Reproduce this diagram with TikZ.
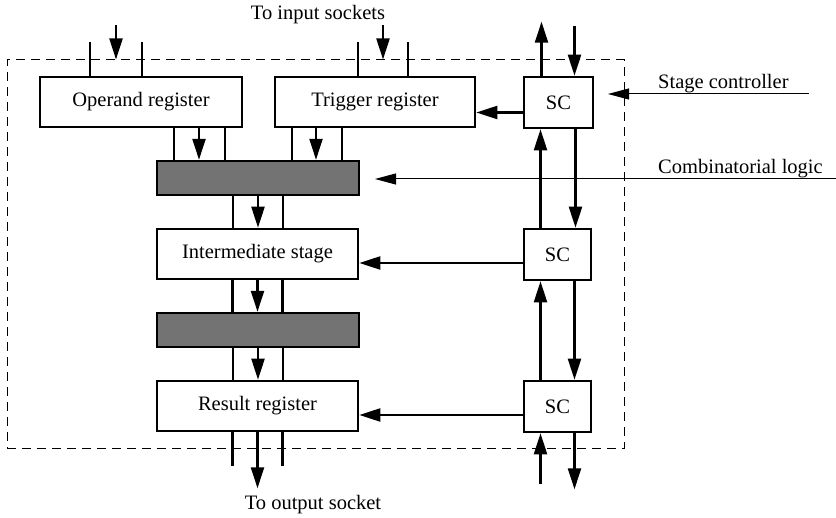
\documentclass[tikz,border=0pt]{standalone}
\usepackage{fontspec}
\setmainfont{Liberation Serif}
\usetikzlibrary{arrows.meta}
\begin{document}
\begin{tikzpicture}[x=1pt,y=-1pt,
  every node/.style={font=\fontsize{20.5}{24}\selectfont},
  blk/.style={draw,line width=2.6pt,fill=white,minimum height=50pt,inner sep=0pt},
  comb/.style={draw,line width=2.4pt,fill=black!55,minimum width=202pt,minimum height=34pt,inner sep=0pt},
  conn/.style={line width=2.2pt},
  arr/.style={line width=2.2pt,-{Triangle[length=21pt,width=13pt]}},
  thinarr/.style={line width=1pt,-{Triangle[length=21pt,width=11pt]}},
  frame/.style={draw,line width=1pt,dash pattern=on 9pt off 6pt,minimum width=617pt,minimum height=389pt,inner sep=0pt},
  lbl/.style={inner sep=0pt}]
\useasboundingbox (0,0) rectangle (836,518);
\node[frame] (frame) at (315.5,254.5) {};
% blocks
\node[blk,minimum width=202pt] (op) at (141,102) {Operand register};
\node[blk,minimum width=200pt] (tr) at (375,102) {Trigger register};
\node[blk,minimum width=69pt,minimum height=51pt] (sct) at (558.5,102.5) {SC};
\node[comb] (c1) at (258,178) {};
\node[blk,minimum width=201pt] (im) at (257.5,254) {Intermediate stage};
\node[comb] (c2) at (258,330) {};
\node[blk,minimum width=201pt] (rr) at (257.5,406) {Result register};
\node[blk,minimum width=67pt,minimum height=51pt] (scm) at (557.5,254.5) {SC};
\node[blk,minimum width=67pt,minimum height=51pt] (scb) at (557.5,406.5) {SC};
% labels
\node[lbl] (tin) at (318,15) {To input sockets};
\node[lbl] (tout) at (313,505) {To output socket};
\node[lbl,anchor=base west] (lsc) at (658,89) {Stage controller};
\node[lbl,anchor=base west] (lcl) at (658,174) {Combinatorial logic};
\coordinate (scend) at (809,94);
\coordinate (sctip) at (608,94);
\coordinate (clend) at (836,179);
\coordinate (cltip) at (375,179);
\draw[thinarr] (scend) -- (sctip);
\draw[thinarr] (clend) -- (cltip);
% inputs on top
\draw[conn] ([xshift=-51]op.north) -- ++(0,-34);
\draw[conn] ([xshift=1]op.north) -- ++(0,-34);
\draw[arr] ([xshift=-25]op.north |- 0,25) -- ([xshift=-25]op.north |- frame.north);
\draw[conn] ([xshift=-17]tr.north) -- ++(0,-34);
\draw[conn] ([xshift=33]tr.north) -- ++(0,-34);
\draw[arr] ([xshift=8]tr.north |- 0,25) -- ([xshift=8]tr.north |- frame.north);
% registers to comb1
\draw[conn] ([xshift=33]op.south) -- ([xshift=33]op.south |- c1.north);
\draw[conn] ([xshift=84]op.south) -- ([xshift=84]op.south |- c1.north);
\draw[arr] ([xshift=58]op.south) -- ([xshift=58]op.south |- c1.north);
\draw[conn] ([xshift=-83]tr.south) -- ([xshift=-83]tr.south |- c1.north);
\draw[conn] ([xshift=-33]tr.south) -- ([xshift=-33]tr.south |- c1.north);
\draw[arr] ([xshift=-59]tr.south) -- ([xshift=-59]tr.south |- c1.north);
% comb1 to intermediate
\draw[conn] ([xshift=-25]c1.south) -- ([xshift=-25]c1.south |- im.north);
\draw[conn] ([xshift=25]c1.south) -- ([xshift=25]c1.south |- im.north);
\draw[arr] (c1.south) -- (c1.south |- im.north);
% intermediate to comb2
\draw[conn] ([xshift=-25]im.south) -- ([xshift=-25]im.south |- c2.north);
\draw[conn] ([xshift=25]im.south) -- ([xshift=25]im.south |- c2.north);
\draw[arr] (im.south) -- (im.south |- c2.north);
% comb2 to result
\draw[conn] ([xshift=-25]c2.south) -- ([xshift=-25]c2.south |- rr.north);
\draw[conn] ([xshift=25]c2.south) -- ([xshift=25]c2.south |- rr.north);
\draw[arr] (c2.south) -- (c2.south |- rr.north);
% output
\draw[conn] ([xshift=-25]rr.south) -- ++(0,34);
\draw[conn] ([xshift=25]rr.south) -- ++(0,34);
\draw[arr] (rr.south) -- ++(0,56);
% SC chain
\draw[arr] ([xshift=-17]sct.north) -- ++(0,-54);
\draw[arr] ([xshift=16]sct.north) ++(0,-50) -- ([xshift=16]sct.north);
\draw[arr] ([xshift=-17]scm.north) -- ([xshift=-17]scm.north |- sct.south);
\draw[arr] ([xshift=17]sct.south) -- ([xshift=17]sct.south |- scm.north);
\draw[arr] ([xshift=-17]scb.north) -- ([xshift=-17]scb.north |- scm.south);
\draw[arr] ([xshift=17]scm.south) -- ([xshift=17]scm.south |- scb.north);
\draw[arr] ([xshift=-17]scb.south) ++(0,51) -- ([xshift=-17]scb.south);
\draw[arr] ([xshift=17]scb.south) -- ++(0,56);
% SC to registers
\draw[arr] ([yshift=-10]sct.west) -- ([yshift=-10]sct.west -| tr.east);
\draw[arr] ([yshift=-8.5]scm.west) -- ([yshift=-8.5]scm.west -| im.east);
\draw[arr] ([yshift=-8.5]scb.west) -- ([yshift=-8.5]scb.west -| rr.east);
\end{tikzpicture}
\end{document}
